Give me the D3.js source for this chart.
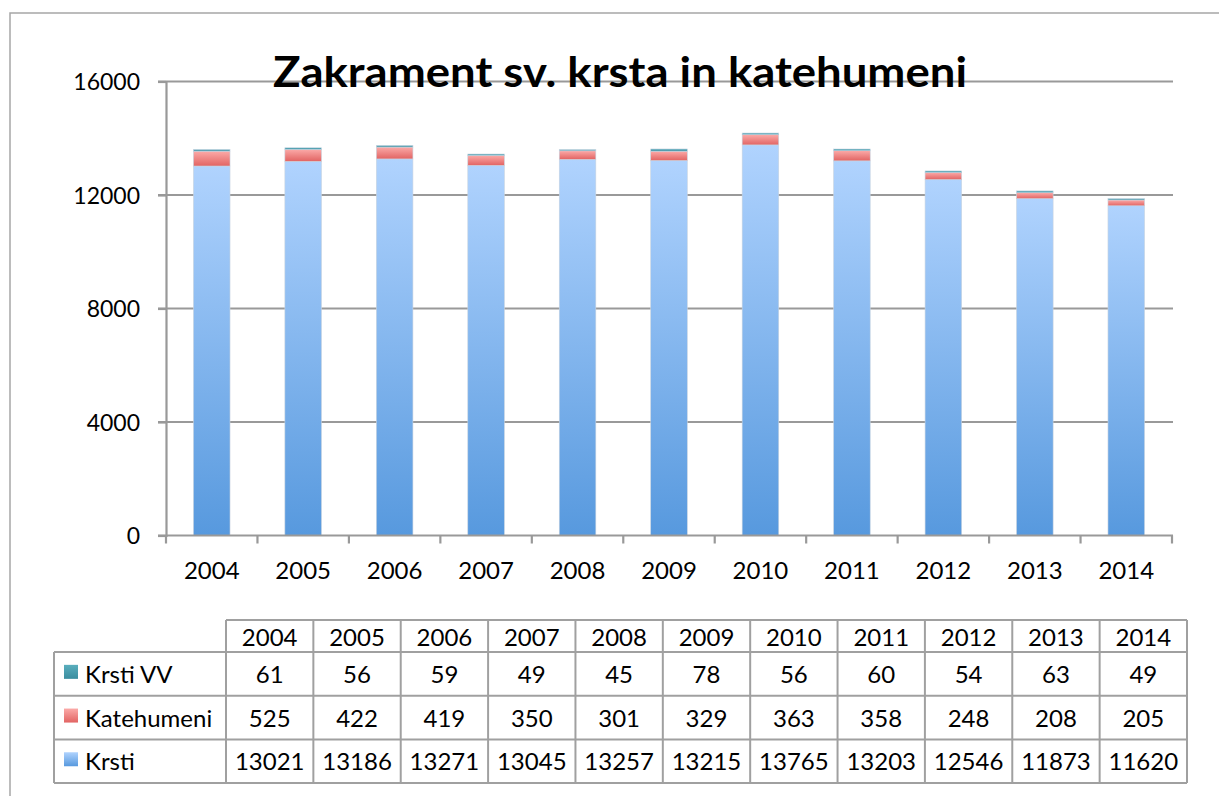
<!DOCTYPE html>
<html lang="sl">
<head>
<meta charset="utf-8">
<title>Zakrament sv. krsta in katehumeni</title>
<script src="https://d3js.org/d3.v7.min.js"></script>
<style>
  body { margin: 0; background: #fff; }
  text { font-family: Lato, "Open Sans", sans-serif; fill: #000; }
</style>
</head>
<body>
<script>
// data
const years = ["2004", "2005", "2006", "2007", "2008", "2009", "2010", "2011", "2012", "2013", "2014"];
const krsti = [13021, 13186, 13271, 13045, 13257, 13215, 13765, 13203, 12546, 11873, 11620];
const katehumeni = [525, 422, 419, 350, 301, 329, 363, 358, 248, 208, 205];
const krstiVV = [61, 56, 59, 49, 45, 78, 56, 60, 54, 63, 49];
const seriesNames = ["Krsti", "Katehumeni", "Krsti VV"];
const yTicks = [0, 4000, 8000, 12000, 16000];

const width = 1219, height = 796;
const svg = d3.select("body").append("svg")
  .attr("width", width).attr("height", height);

// gradients
const defs = svg.append("defs");
function grad(id, top, bottom) {
  const g = defs.append("linearGradient").attr("id", id)
    .attr("x1", 0).attr("y1", 0).attr("x2", 0).attr("y2", 1);
  g.append("stop").attr("offset", "0%").attr("stop-color", top);
  g.append("stop").attr("offset", "100%").attr("stop-color", bottom);
}
grad("gKrsti", "#b0d3fe", "#5799de");
grad("gKat", "#fbaaa8", "#e26463");
grad("gVV", "#5aaebd", "#3a8d9f");
const fills = { "Krsti": "url(#gKrsti)", "Katehumeni": "url(#gKat)", "Krsti VV": "url(#gVV)" };

// outer frame
svg.append("rect").attr("x", 10).attr("y", 13).attr("width", 1230).attr("height", 800)
  .attr("fill", "none").attr("stroke", "#a6a6a6").attr("stroke-width", 1.5);

// scales
const x = d3.scaleBand().domain(years).range([166, 1172]).paddingInner(0.6).paddingOuter(0.3);
const xb = d3.scaleBand().domain(years).range([166, 1172]);
const y = d3.scaleLinear().domain([0, 16000]).range([535.5, 81.5]);

// grid lines
svg.append("g").selectAll("line").data(yTicks.slice(1)).join("line")
  .attr("x1", 158).attr("x2", 1173)
  .attr("y1", d => y(d)).attr("y2", d => y(d))
  .attr("stroke", "#999").attr("stroke-width", 2.2);

// y axis
const yAxis = svg.append("g").attr("transform", "translate(166,0)")
  .call(d3.axisLeft(y).tickValues(yTicks).tickSize(8).tickPadding(18).tickFormat(d3.format("d")));
yAxis.select(".domain").attr("stroke", "#999").attr("stroke-width", 2.2);
yAxis.selectAll(".tick line").attr("stroke", "#999").attr("stroke-width", 2.2);
yAxis.selectAll("text").attr("font-size", 23).attr("dy", "0.35em")
  .style("font-family", "Lato, sans-serif");

// stacked bars
const rows = years.map((yr, i) => ({ year: yr, "Krsti": krsti[i], "Katehumeni": katehumeni[i], "Krsti VV": krstiVV[i] }));
const stack = d3.stack().keys(seriesNames)(rows);

svg.append("g").selectAll("g").data(stack).join("g")
  .attr("fill", d => fills[d.key])
  .selectAll("rect").data(d => d).join("rect")
  .attr("x", d => x(d.data.year))
  .attr("width", x.bandwidth())
  .attr("y", d => y(d[1]))
  .attr("height", d => y(d[0]) - y(d[1]))
  .attr("stroke", "#c8d4e0").attr("stroke-width", 0.6);

// x axis
const xAxis = svg.append("g").attr("transform", "translate(0,535.5)");
xAxis.append("line").attr("x1", 158).attr("x2", 1173)
  .attr("stroke", "#999").attr("stroke-width", 2.2);
const bounds = years.map(d => xb(d)).concat([xb(years[years.length - 1]) + xb.bandwidth()]);
xAxis.selectAll("line.tk").data(bounds).join("line").attr("class", "tk")
  .attr("x1", d => d).attr("x2", d => d).attr("y1", 0).attr("y2", 8)
  .attr("stroke", "#999").attr("stroke-width", 2.2);
xAxis.selectAll("text").data(years).join("text")
  .attr("x", d => xb(d) + xb.bandwidth() / 2).attr("y", 43)
  .attr("text-anchor", "middle").attr("font-size", 24).text(d => d);

// title
svg.append("text").attr("x", 620).attr("y", 87)
  .attr("text-anchor", "middle").attr("font-size", 42).attr("font-weight", "bold")
  .attr("textLength", 694).attr("lengthAdjust", "spacingAndGlyphs")
  .text("Zakrament sv. krsta in katehumeni");

// data table
const tx = d3.scaleBand().domain(years).range([226, 1187]);
const tableRows = [
  { name: "Krsti VV", values: krstiVV },
  { name: "Katehumeni", values: katehumeni },
  { name: "Krsti", values: krsti }
];
const hTop = 620, hBot = 652, rowH = 43.7;
const ty = d3.scaleBand().domain(tableRows.map(d => d.name)).range([hBot, hBot + rowH * 3]);
const table = svg.append("g");
const lineCol = "#a0a0a0";

// header cells
table.selectAll("text.hd").data(years).join("text").attr("class", "hd")
  .attr("x", d => tx(d) + tx.bandwidth() / 2).attr("y", hTop + 26)
  .attr("text-anchor", "middle").attr("font-size", 24).text(d => d);

// row cells
tableRows.forEach(r => {
  const gy = ty(r.name);
  table.append("rect").attr("x", 64).attr("y", gy + ty.bandwidth() / 2 - 9)
    .attr("width", 14).attr("height", 14).attr("fill", fills[r.name]);
  table.append("text").attr("x", 85).attr("y", gy + ty.bandwidth() / 2 + 9)
    .attr("font-size", 24).text(r.name);
  table.selectAll(null).data(r.values).join("text")
    .attr("x", (d, i) => tx(years[i]) + tx.bandwidth() / 2)
    .attr("y", gy + ty.bandwidth() / 2 + 9)
    .attr("text-anchor", "middle").attr("font-size", 24).text(d => d);
});

// table grid
const hLines = [
  { y: hTop, x1: 226 },
  { y: hBot, x1: 54 },
  ...tableRows.map(r => ({ y: ty(r.name) + ty.bandwidth(), x1: 54 }))
];
table.selectAll("line.h").data(hLines).join("line").attr("class", "h")
  .attr("x1", d => d.x1).attr("x2", 1187).attr("y1", d => d.y).attr("y2", d => d.y)
  .attr("stroke", lineCol).attr("stroke-width", 2);
const vLines = [{ x: 54, y1: hBot }].concat(
  years.map(d => ({ x: tx(d), y1: hTop })),
  [{ x: 1187, y1: hTop }]);
const tBot = hBot + rowH * 3;
table.selectAll("line.v").data(vLines).join("line").attr("class", "v")
  .attr("x1", d => d.x).attr("x2", d => d.x).attr("y1", d => d.y1).attr("y2", tBot)
  .attr("stroke", lineCol).attr("stroke-width", 2);
</script>
</body>
</html>
